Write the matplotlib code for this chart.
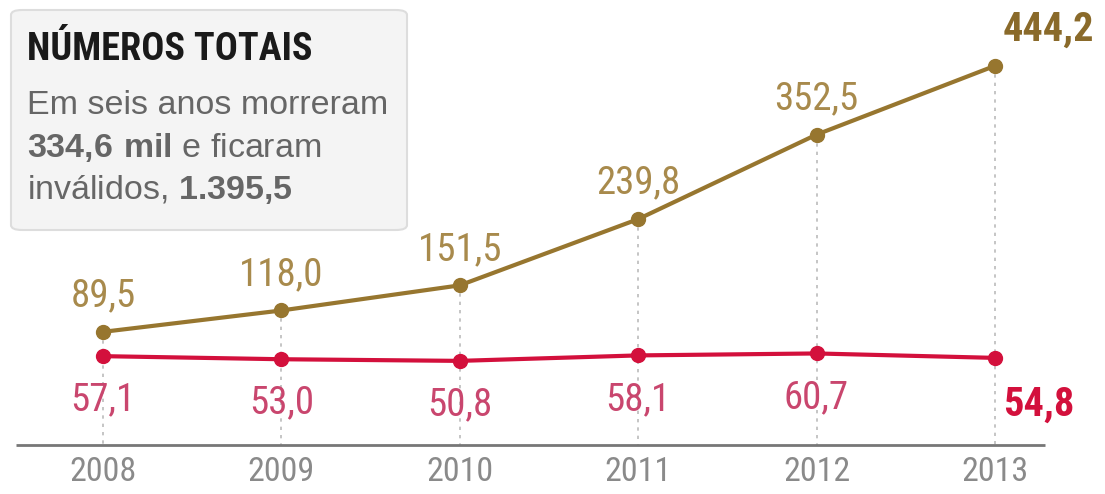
import matplotlib
matplotlib.use("Agg")
import matplotlib.pyplot as plt
from matplotlib import font_manager as fm
from matplotlib.patches import FancyBboxPatch

years = [2008, 2009, 2010, 2011, 2012, 2013]
year_labels = ["2008", "2009", "2010", "2011", "2012", "2013"]
invalidos = [89.5, 118.0, 151.5, 239.8, 352.5, 444.2]
mortos = [57.1, 53.0, 50.8, 58.1, 60.7, 54.8]
inv_labels = ["89,5", "118,0", "151,5", "239,8", "352,5", "444,2"]
mor_labels = ["57,1", "53,0", "50,8", "58,1", "60,7", "54,8"]

names = {f.name for f in fm.fontManager.ttflist}
if "Roboto Condensed" in names:
    narrow = dict(family="Roboto Condensed")
else:
    narrow = dict(family="DejaVu Sans", fontstretch="condensed")
body = "Liberation Sans"
plt.rcParams["mathtext.fontset"] = "custom"
plt.rcParams["mathtext.rm"] = "Liberation Sans"
plt.rcParams["mathtext.bf"] = "Liberation Sans:bold"

BROWN = "#97762f"
BROWN_T = "#a88a4c"
RED = "#d3103c"
RED_T = "#c9466e"
GRAY = "#8a8a8a"

fig = plt.figure(figsize=(11.05, 4.94), dpi=100)
ax = fig.add_axes([0, 0, 1, 1])
ax.set_xlim(2007.423, 2013.617)
ax.set_ylim(-126.7, 532)
ax.axis("off")

# baseline
ax.plot([2007.51, 2013.28], [-61.3, -61.3], color="#777777", lw=2, solid_capstyle="butt", zorder=1)
# dotted verticals
for x, top in zip(years, invalidos):
    ax.plot([x, x], [top, -61.3], color="#bbbbbb", lw=1.2, ls=(0, (2, 3)), zorder=0)

ax.plot(years, invalidos, color=BROWN, lw=3, marker="o", ms=10, zorder=3)
ax.plot(years, mortos, color=RED, lw=3, marker="o", ms=10, zorder=3)

for i, (x, y, t) in enumerate(zip(years, invalidos, inv_labels)):
    if i == len(years) - 1:
        ax.annotate(t, (x, y), xytext=(53, 36), textcoords="offset pixels", ha="center", va="center",
                    fontsize=29, fontweight="bold", color="#8a6a2a", **narrow)
    else:
        ax.annotate(t, (x, y), xytext=(0, 36), textcoords="offset pixels", ha="center", va="center",
                    fontsize=28, fontweight="normal", color=BROWN_T, **narrow)

for i, (x, y, t) in enumerate(zip(years, mortos, mor_labels)):
    if i == len(years) - 1:
        ax.annotate(t, (x, y), xytext=(44, -47), textcoords="offset pixels", ha="center", va="center",
                    fontsize=29, fontweight="bold", color=RED, **narrow)
    else:
        ax.annotate(t, (x, y), xytext=(0, -44), textcoords="offset pixels", ha="center", va="center",
                    fontsize=28, fontweight="normal", color=RED_T, **narrow)

for x, t in zip(years, year_labels):
    ax.annotate(t, (x, -61.3), xytext=(0, -27), textcoords="offset pixels", ha="center", va="center",
                fontsize=24.5, fontweight="normal", color=GRAY, **narrow)

# info box
box = FancyBboxPatch((11 / 1105, 1 - 230 / 494), 396 / 1105, 220 / 494,
                     boxstyle="round,pad=0,rounding_size=0.01", transform=fig.transFigure,
                     facecolor="#f4f4f4", edgecolor="#dddddd", lw=1.5, zorder=5)
fig.patches.append(box)

fig.text(27 / 1105, 1 - 50 / 494, "NÚMEROS TOTAIS", fontsize=27.5, fontweight="bold",
         color="#1a1a1a", va="center", ha="left", zorder=6, **narrow)
fig.text(27 / 1105, 1 - 105 / 494, "Em seis anos morreram", fontsize=24.5, family=body,
         color="#666666", va="center", ha="left", zorder=6)
fig.text(27 / 1105, 1 - 147 / 494, "$\\bf{334{,}6\\ mil}$ e ficaram", fontsize=24.5, family=body,
         color="#666666", va="center", ha="left", zorder=6)
fig.text(27 / 1105, 1 - 189 / 494, "inválidos, $\\bf{1.395{,}5}$", fontsize=24.5, family=body,
         color="#666666", va="center", ha="left", zorder=6)

fig.savefig("out.png", dpi=100)
